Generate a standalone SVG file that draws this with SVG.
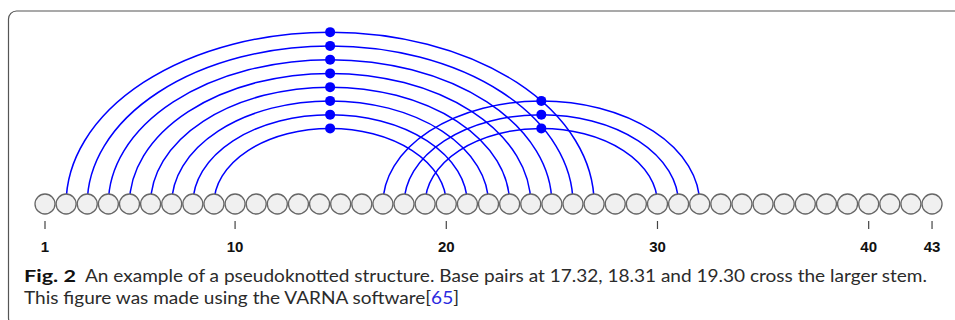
<svg xmlns="http://www.w3.org/2000/svg" width="955" height="320" viewBox="0 0 955 320">
  <style>
    .frame { fill: none; stroke: #555; stroke-width: 1.2; }
    .arc { fill: none; stroke: #0000ff; stroke-width: 1.5; }
    .pair-dot { fill: #0000ff; }
    .base { fill: #f0f0f0; stroke: #666; stroke-width: 1.3; }
    .tick { stroke: #444; stroke-width: 1.2; }
    .num { font-family: "Liberation Sans", Arial, sans-serif; font-weight: bold; font-size: 15px; fill: #111; text-anchor: middle; }
    .cap { font-family: Lato, "Open Sans", sans-serif; font-size: 17.5px; fill: #2b2b2b; }
    .cap-bold { font-weight: bold; fill: #111; }
    .ref { fill: #2a2ae0; }
  </style>

  <!-- panel frame, only top and left edges fall inside the view -->
  <rect class="frame" x="8.5" y="11" width="1000" height="315" rx="8" ry="8"/>

  <!-- base-pair arcs (semi-ellipses, ry = 0.651 * rx) with apex markers -->
  <g id="connectors">
    <!-- main stem 2-27 ... 9-20 -->
    <path class="arc" d="M66.12,204 A264,171.86 0 0 1 594.12,204"/>
    <path class="arc" d="M87.24,204 A242.88,158.11 0 0 1 573,204"/>
    <path class="arc" d="M108.36,204 A221.76,144.37 0 0 1 551.88,204"/>
    <path class="arc" d="M129.48,204 A200.64,130.62 0 0 1 530.76,204"/>
    <path class="arc" d="M150.6,204 A179.52,116.87 0 0 1 509.64,204"/>
    <path class="arc" d="M171.72,204 A158.4,103.12 0 0 1 488.52,204"/>
    <path class="arc" d="M192.84,204 A137.28,89.37 0 0 1 467.4,204"/>
    <path class="arc" d="M213.96,204 A116.16,75.62 0 0 1 446.28,204"/>
    <!-- pseudoknot 17-32, 18-31, 19-30 -->
    <path class="arc" d="M382.92,204 A158.4,103.12 0 0 1 699.72,204"/>
    <path class="arc" d="M404.04,204 A137.28,89.37 0 0 1 678.6,204"/>
    <path class="arc" d="M425.16,204 A116.16,75.62 0 0 1 657.48,204"/>

    <circle class="pair-dot" cx="330.12" cy="32.14" r="5"/>
    <circle class="pair-dot" cx="330.12" cy="45.89" r="5"/>
    <circle class="pair-dot" cx="330.12" cy="59.63" r="5"/>
    <circle class="pair-dot" cx="330.12" cy="73.38" r="5"/>
    <circle class="pair-dot" cx="330.12" cy="87.13" r="5"/>
    <circle class="pair-dot" cx="330.12" cy="100.88" r="5"/>
    <circle class="pair-dot" cx="330.12" cy="114.63" r="5"/>
    <circle class="pair-dot" cx="330.12" cy="128.38" r="5"/>
    <circle class="pair-dot" cx="541.32" cy="100.88" r="5"/>
    <circle class="pair-dot" cx="541.32" cy="114.63" r="5"/>
    <circle class="pair-dot" cx="541.32" cy="128.38" r="5"/>
  </g>

  <!-- nucleotides 1..43 along the backbone -->
  <g id="bases">
    <g id="n1"><circle class="base" cx="45" cy="204" r="10"/></g>
    <g id="n2"><circle class="base" cx="66.12" cy="204" r="10"/></g>
    <g id="n3"><circle class="base" cx="87.24" cy="204" r="10"/></g>
    <g id="n4"><circle class="base" cx="108.36" cy="204" r="10"/></g>
    <g id="n5"><circle class="base" cx="129.48" cy="204" r="10"/></g>
    <g id="n6"><circle class="base" cx="150.6" cy="204" r="10"/></g>
    <g id="n7"><circle class="base" cx="171.72" cy="204" r="10"/></g>
    <g id="n8"><circle class="base" cx="192.84" cy="204" r="10"/></g>
    <g id="n9"><circle class="base" cx="213.96" cy="204" r="10"/></g>
    <g id="n10"><circle class="base" cx="235.08" cy="204" r="10"/></g>
    <g id="n11"><circle class="base" cx="256.2" cy="204" r="10"/></g>
    <g id="n12"><circle class="base" cx="277.32" cy="204" r="10"/></g>
    <g id="n13"><circle class="base" cx="298.44" cy="204" r="10"/></g>
    <g id="n14"><circle class="base" cx="319.56" cy="204" r="10"/></g>
    <g id="n15"><circle class="base" cx="340.68" cy="204" r="10"/></g>
    <g id="n16"><circle class="base" cx="361.8" cy="204" r="10"/></g>
    <g id="n17"><circle class="base" cx="382.92" cy="204" r="10"/></g>
    <g id="n18"><circle class="base" cx="404.04" cy="204" r="10"/></g>
    <g id="n19"><circle class="base" cx="425.16" cy="204" r="10"/></g>
    <g id="n20"><circle class="base" cx="446.28" cy="204" r="10"/></g>
    <g id="n21"><circle class="base" cx="467.4" cy="204" r="10"/></g>
    <g id="n22"><circle class="base" cx="488.52" cy="204" r="10"/></g>
    <g id="n23"><circle class="base" cx="509.64" cy="204" r="10"/></g>
    <g id="n24"><circle class="base" cx="530.76" cy="204" r="10"/></g>
    <g id="n25"><circle class="base" cx="551.88" cy="204" r="10"/></g>
    <g id="n26"><circle class="base" cx="573" cy="204" r="10"/></g>
    <g id="n27"><circle class="base" cx="594.12" cy="204" r="10"/></g>
    <g id="n28"><circle class="base" cx="615.24" cy="204" r="10"/></g>
    <g id="n29"><circle class="base" cx="636.36" cy="204" r="10"/></g>
    <g id="n30"><circle class="base" cx="657.48" cy="204" r="10"/></g>
    <g id="n31"><circle class="base" cx="678.6" cy="204" r="10"/></g>
    <g id="n32"><circle class="base" cx="699.72" cy="204" r="10"/></g>
    <g id="n33"><circle class="base" cx="720.84" cy="204" r="10"/></g>
    <g id="n34"><circle class="base" cx="741.96" cy="204" r="10"/></g>
    <g id="n35"><circle class="base" cx="763.08" cy="204" r="10"/></g>
    <g id="n36"><circle class="base" cx="784.2" cy="204" r="10"/></g>
    <g id="n37"><circle class="base" cx="805.32" cy="204" r="10"/></g>
    <g id="n38"><circle class="base" cx="826.44" cy="204" r="10"/></g>
    <g id="n39"><circle class="base" cx="847.56" cy="204" r="10"/></g>
    <g id="n40"><circle class="base" cx="868.68" cy="204" r="10"/></g>
    <g id="n41"><circle class="base" cx="889.8" cy="204" r="10"/></g>
    <g id="n42"><circle class="base" cx="910.92" cy="204" r="10"/></g>
    <g id="n43"><circle class="base" cx="932.04" cy="204" r="10"/></g>
  </g>

  <!-- position ruler -->
  <g id="ruler">
    <line class="tick" x1="45" y1="221" x2="45" y2="229"/>
    <line class="tick" x1="235.08" y1="221" x2="235.08" y2="229"/>
    <line class="tick" x1="446.28" y1="221" x2="446.28" y2="229"/>
    <line class="tick" x1="657.48" y1="221" x2="657.48" y2="229"/>
    <line class="tick" x1="868.68" y1="221" x2="868.68" y2="229"/>
    <line class="tick" x1="932.04" y1="221" x2="932.04" y2="229"/>
    <text class="num" x="45" y="252">1</text>
    <text class="num" x="235.08" y="252">10</text>
    <text class="num" x="446.28" y="252">20</text>
    <text class="num" x="657.48" y="252">30</text>
    <text class="num" x="868.68" y="252">40</text>
    <text class="num" x="932.04" y="252">43</text>
  </g>

  <!-- caption -->
  <g id="caption">
    <text class="cap cap-bold" x="24" y="282" textLength="52" lengthAdjust="spacingAndGlyphs">Fig. 2</text>
    <text class="cap" x="85" y="282" textLength="842" lengthAdjust="spacingAndGlyphs">An example of a pseudoknotted structure. Base pairs at 17.32, 18.31 and 19.30 cross the larger stem.</text>
    <text class="cap" x="24" y="304" textLength="435" lengthAdjust="spacingAndGlyphs">This figure was made using the VARNA software[<tspan class="ref">65</tspan>]</text>
  </g>
</svg>
